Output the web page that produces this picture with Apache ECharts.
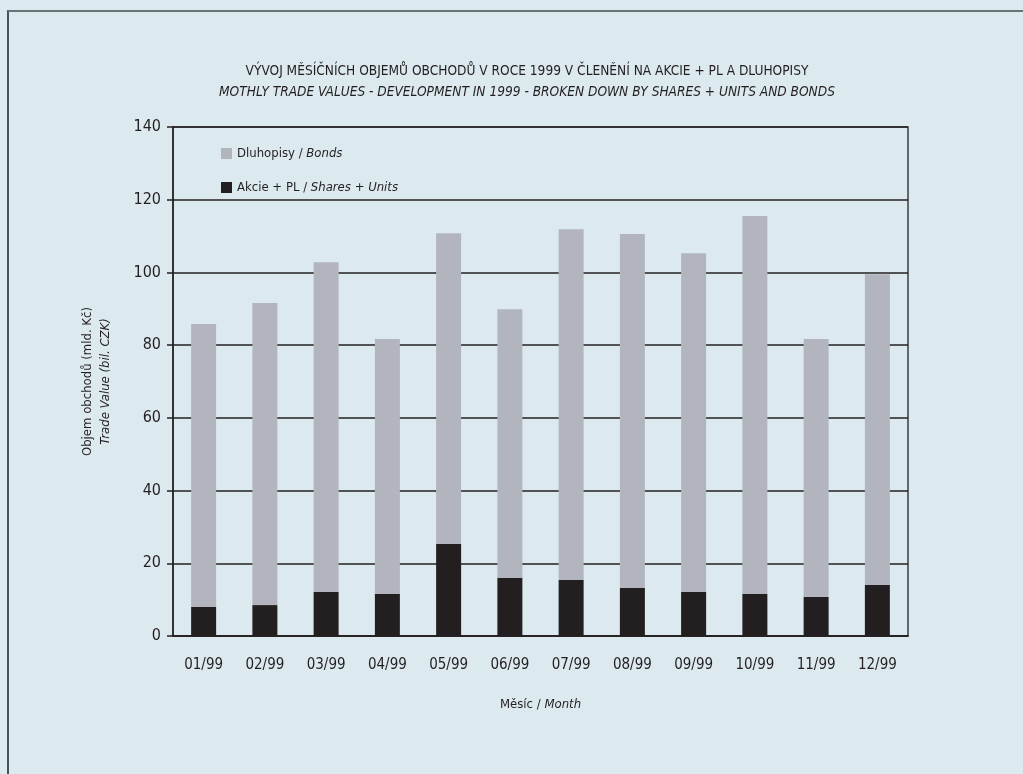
<!DOCTYPE html>
<html>
<head>
<meta charset="utf-8">
<script src="https://cdn.jsdelivr.net/npm/echarts@6/dist/echarts.min.js"></script>
<style>
  html, body { margin: 0; padding: 0; background: #dceaf0; }
  #frame { position: absolute; left: 7px; top: 10px; width: 1016px; height: 764px;
           border-top: 2px solid #6b7278; border-left: 2px solid #4a5056; box-sizing: border-box; }
  #chart { position: absolute; left: 0; top: 0; width: 1023px; height: 774px; }
</style>
</head>
<body>
<div id="frame"></div>
<div id="chart"></div>
<script>
const months = ['01/99', '02/99', '03/99', '04/99', '05/99', '06/99', '07/99', '08/99', '09/99', '10/99', '11/99', '12/99']
const shares = [8.0, 8.5, 12.1, 11.6, 25.3, 16.0, 15.4, 13.2, 12.1, 11.6, 10.7, 14.0]
const bonds = [77.8, 83.1, 90.7, 70.1, 85.5, 73.9, 96.5, 97.4, 93.2, 103.9, 71.0, 85.5]
const yTicks = [0, 20, 40, 60, 80, 100, 120, 140]

const font = '"Liberation Sans Narrow", "DejaVu Sans Condensed", sans-serif'
const ink = '#231f20'

const myChart = echarts.init(document.getElementById('chart'))
myChart.setOption({
    textStyle: { fontFamily: font },
    title: {
        text: 'VÝVOJ MĚSÍČNÍCH OBJEMŮ OBCHODŮ V ROCE 1999 V ČLENĚNÍ NA AKCIE + PL A DLUHOPISY',
        subtext: 'MOTHLY TRADE VALUES - DEVELOPMENT IN 1999 - BROKEN DOWN BY SHARES + UNITS AND BONDS',
        left: 522, top: 59, textAlign: 'center', itemGap: 7,
        textStyle: { fontFamily: font, fontSize: 13.6, fontWeight: 'normal', color: ink },
        subtextStyle: { fontFamily: font, fontSize: 13.6, fontStyle: 'italic', color: ink }
    },
    legend: {
        orient: 'vertical', left: 216, top: 142, itemGap: 21,
        itemWidth: 11, itemHeight: 11, icon: 'rect',
        data: ['Dluhopisy / Bonds', 'Akcie + PL / Shares + Units'],
        formatter: name => {
            const p = name.split(' / ')
            return '{a|' + p[0] + ' / }{b|' + p[1] + '}'
        },
        textStyle: {
            fontFamily: font, fontSize: 13, color: ink,
            rich: { a: { fontFamily: font, fontSize: 13, color: ink }, b: { fontFamily: font, fontSize: 13, fontStyle: 'italic', color: ink } }
        }
    },
    grid: { left: 173, right: 115, top: 127, bottom: 138, show: true, borderColor: '#3a3d42', borderWidth: 1.5, backgroundColor: 'transparent' },
    xAxis: {
        type: 'category', data: months,
        axisLine: { lineStyle: { color: ink, width: 1.5 } },
        axisTick: { inside: true, length: 6, lineStyle: { color: '#555' } },
        axisLabel: { fontFamily: font, fontSize: 15, color: ink, margin: 22 },
        name: '{a|Měsíc / }{b|Month}', nameLocation: 'middle', nameGap: 62,
        nameTextStyle: { rich: { a: { fontFamily: font, fontSize: 13, color: ink }, b: { fontFamily: font, fontSize: 13, fontStyle: 'italic', color: ink } } }
    },
    yAxis: {
        type: 'value', min: yTicks[0], max: yTicks[yTicks.length - 1], interval: 20,
        axisLine: { show: true, lineStyle: { color: ink, width: 1.5 } },
        axisTick: { show: true, length: 6, lineStyle: { color: ink, width: 1.5 } },
        axisLabel: { fontFamily: font, fontSize: 16, color: ink, margin: 12 },
        splitLine: { lineStyle: { color: ink, width: 1.5 } },
        name: '{a|Objem obchodů (mld. Kč)}\n{b|Trade Value (bil. CZK)}', nameLocation: 'middle', nameGap: 58, nameRotate: 90,
        nameTextStyle: { lineHeight: 18, rich: { a: { fontFamily: font, fontSize: 13, color: ink, lineHeight: 18 }, b: { fontFamily: font, fontSize: 13, fontStyle: 'italic', color: ink, lineHeight: 18 } } }
    },
    series: [
        { name: 'Akcie + PL / Shares + Units', type: 'bar', stack: 'v', data: shares, barWidth: 25, itemStyle: { color: ink } },
        { name: 'Dluhopisy / Bonds', type: 'bar', stack: 'v', data: bonds, barWidth: 25, itemStyle: { color: '#b2b5bd' } }
    ]
})
</script>
</body>
</html>
